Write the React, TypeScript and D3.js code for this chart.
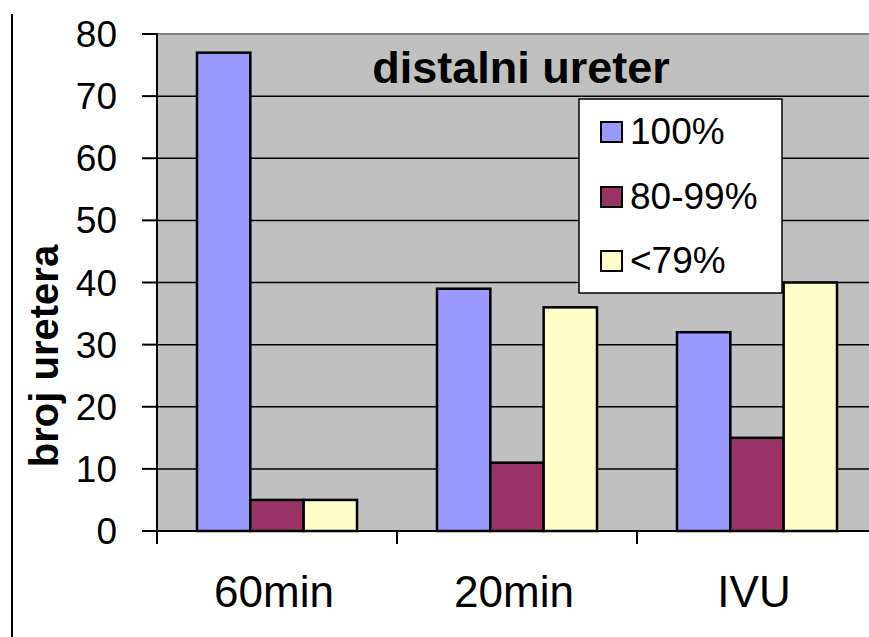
import React from "react";
import * as d3 from "d3";

const categories = ["60min", "20min", "IVU"];
const seriesNames = ["100%", "80-99%", "<79%"];
const seriesColors = ["#9999FF", "#993366", "#FFFFCC"];
const values100 = [77, 39, 32];
const values80 = [5, 11, 15];
const values79 = [5, 36, 40];
const seriesValues = [values100, values80, values79];
const yTicks = [0, 10, 20, 30, 40, 50, 60, 70, 80];
const title = "distalni ureter";
const yLabel = "broj uretera";

const W = 869;
const H = 637;
const plotLeft = 157;
const plotRight = 877;
const plotTop = 34;
const plotBottom = 531;
const font = "'Liberation Sans', Arial, sans-serif";

export default function App() {
  const x = d3.scaleBand<string>().domain(categories).range([plotLeft, plotRight]).padding(0);
  const bw = x.bandwidth();
  const inner = d3
    .scaleBand<string>()
    .domain(seriesNames)
    .range([bw / 6, bw - bw / 6])
    .padding(0);
  const y = d3.scaleLinear().domain([0, 80]).range([plotBottom, plotTop]);

  return (
    <svg
      width={W}
      height={H}
      style={{ position: "absolute", left: 0, top: 0, background: "#fff" }}
      fontFamily={font}
    >
      <rect x={0} y={0} width={W} height={H} fill="#fff" />
      {/* left frame line */}
      <line x1={12} y1={14} x2={12} y2={H} stroke="#000" strokeWidth={2} />
      {/* plot area */}
      <rect x={plotLeft} y={plotTop} width={plotRight - plotLeft} height={plotBottom - plotTop} fill="#C0C0C0" />
      <line x1={plotLeft} y1={plotTop} x2={plotRight} y2={plotTop} stroke="#808080" strokeWidth={2} />
      {yTicks.slice(1, -1).map((t) => (
        <line key={t} x1={plotLeft} x2={plotRight} y1={y(t)} y2={y(t)} stroke="#000" strokeWidth={1.5} />
      ))}
      {/* bars */}
      {categories.map((c, ci) =>
        seriesNames.map((s, si) => {
          const v = seriesValues[si][ci];
          const bx = (x(c) as number) + (inner(s) as number);
          return (
            <rect
              key={c + s}
              x={bx}
              y={y(v)}
              width={inner.bandwidth()}
              height={plotBottom - y(v)}
              fill={seriesColors[si]}
              stroke="#000"
              strokeWidth={2.5}
            />
          );
        })
      )}
      {/* axes */}
      <line x1={plotLeft} y1={plotTop - 1} x2={plotLeft} y2={plotBottom} stroke="#000" strokeWidth={2} />
      <line x1={plotLeft - 15} y1={plotBottom} x2={plotRight} y2={plotBottom} stroke="#000" strokeWidth={2} />
      {yTicks.map((t) => (
        <g key={t}>
          <line x1={plotLeft - 15} x2={plotLeft} y1={y(t)} y2={y(t)} stroke="#000" strokeWidth={2} />
          <text x={117} y={y(t) + 13} fontSize={37} textAnchor="end" fill="#000">
            {t}
          </text>
        </g>
      ))}
      {[...categories, "end"].map((c, i) => {
        const tx = plotLeft + i * bw;
        return <line key={c} x1={tx} x2={tx} y1={plotBottom} y2={plotBottom + 13} stroke="#000" strokeWidth={2} />;
      })}
      {categories.map((c) => (
        <text
          key={c}
          x={(x(c) as number) + bw / 2 - 3}
          y={607}
          fontSize={44}
          textAnchor="middle"
          fill="#000"
        >
          {c}
        </text>
      ))}
      {/* y label */}
      <text
        transform={`translate(58,356) rotate(-90)`}
        fontSize={40}
        fontWeight="bold"
        textAnchor="middle"
        fill="#000"
      >
        {yLabel}
      </text>
      {/* title */}
      <text x={521} y={83} fontSize={45} fontWeight="bold" textAnchor="middle" fill="#000">
        {title}
      </text>
      {/* legend */}
      <rect x={579} y={99} width={203} height={194} fill="#fff" stroke="#000" strokeWidth={1.5} />
      {seriesNames.map((s, i) => {
        const cy = [132, 197, 261][i];
        return (
          <g key={s}>
            <rect x={601} y={cy - 10} width={21} height={20} fill={seriesColors[i]} stroke="#000" strokeWidth={2} />
            <text x={630} y={cy + 12} fontSize={37} fill="#000">
              {s}
            </text>
          </g>
        );
      })}
    </svg>
  );
}
